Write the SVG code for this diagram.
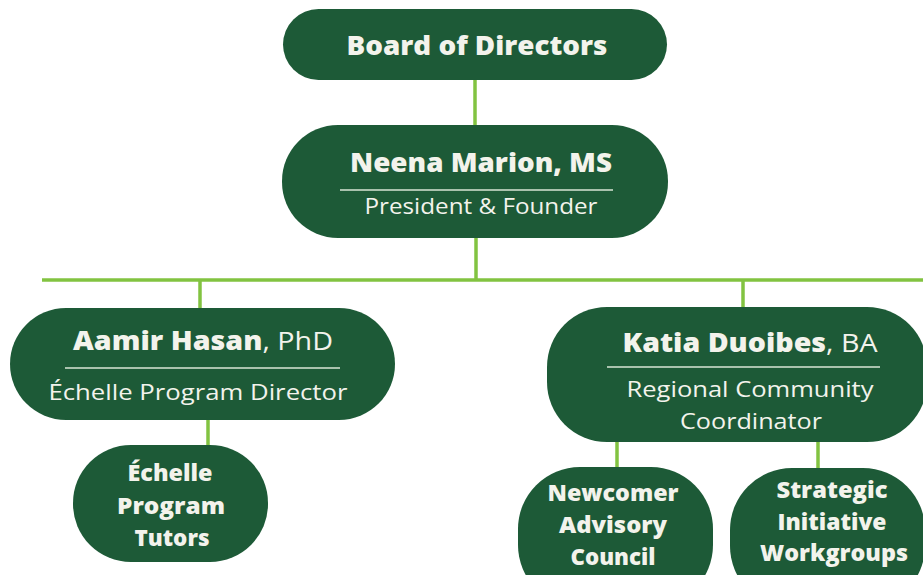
<svg xmlns="http://www.w3.org/2000/svg" width="923" height="575" viewBox="0 0 923 575">
<style>
.box{fill:#1d5a37}
.conn{stroke:#82c341;stroke-width:3.5;fill:none}
.div{stroke:#d9e6d6;stroke-width:1.5}
text{font-family:"Open Sans","Liberation Sans",sans-serif;fill:#f3f3ec;text-anchor:middle}
.b{font-weight:800}
.r{font-weight:400}
</style>
<rect width="923" height="575" fill="#ffffff"/>
<g id="connectors">
<line class="conn" x1="475" y1="80" x2="475" y2="126"/>
<line class="conn" x1="476" y1="237" x2="476" y2="280"/>
<line class="conn" x1="42" y1="280" x2="923" y2="280"/>
<line class="conn" x1="200" y1="280" x2="200" y2="309"/>
<line class="conn" x1="743" y1="280" x2="743" y2="308"/>
<line class="conn" x1="208" y1="419" x2="208" y2="446"/>
<line class="conn" x1="617" y1="441" x2="617" y2="468"/>
<line class="conn" x1="818" y1="441" x2="818" y2="469"/>
</g>
<g id="board">
<rect class="box" x="283" y="9" width="384" height="71" rx="35.5"/>
<text class="b" x="477" y="55" font-size="27" textLength="261" lengthAdjust="spacingAndGlyphs">Board of Directors</text>
</g>
<g id="neena">
<rect class="box" x="282" y="125" width="386" height="113" rx="56"/>
<text class="b" x="481" y="172" font-size="27" textLength="262" lengthAdjust="spacingAndGlyphs">Neena Marion, MS</text>
<line class="div" x1="340" y1="190" x2="613" y2="190"/>
<text class="r" x="481" y="214" font-size="21" textLength="233" lengthAdjust="spacingAndGlyphs">President &amp; Founder</text>
</g>
<g id="aamir">
<rect class="box" x="10" y="308" width="385" height="112" rx="56"/>
<text x="203" y="350" font-size="26" textLength="260" lengthAdjust="spacingAndGlyphs"><tspan class="b">Aamir Hasan</tspan><tspan class="r">, PhD</tspan></text>
<line class="div" x1="65" y1="368" x2="340" y2="368"/>
<text class="r" x="198" y="400" font-size="21" textLength="299" lengthAdjust="spacingAndGlyphs">Échelle Program Director</text>
</g>
<g id="tutors">
<rect class="box" x="73" y="445" width="195" height="117" rx="58"/>
<text class="b" x="170" y="481" font-size="22" textLength="85" lengthAdjust="spacingAndGlyphs">Échelle</text>
<text class="b" x="171" y="514" font-size="22" textLength="108" lengthAdjust="spacingAndGlyphs">Program</text>
<text class="b" x="172" y="546" font-size="22" textLength="75" lengthAdjust="spacingAndGlyphs">Tutors</text>
</g>
<g id="katia">
<rect class="box" x="547" y="307" width="380" height="135" rx="60"/>
<text x="750" y="352" font-size="26" textLength="255" lengthAdjust="spacingAndGlyphs"><tspan class="b">Katia Duoibes</tspan><tspan class="r">, BA</tspan></text>
<line class="div" x1="607" y1="367" x2="880" y2="367"/>
<text class="r" x="750" y="397" font-size="21" textLength="247" lengthAdjust="spacingAndGlyphs">Regional Community</text>
<text class="r" x="751" y="429" font-size="21" textLength="142" lengthAdjust="spacingAndGlyphs">Coordinator</text>
</g>
<g id="newcomer">
<rect class="box" x="518" y="467" width="195" height="140" rx="62"/>
<text class="b" x="613" y="501" font-size="22" textLength="131" lengthAdjust="spacingAndGlyphs">Newcomer</text>
<text class="b" x="613" y="533" font-size="22" textLength="108" lengthAdjust="spacingAndGlyphs">Advisory</text>
<text class="b" x="613" y="565" font-size="22" textLength="85" lengthAdjust="spacingAndGlyphs">Council</text>
</g>
<g id="strategic">
<rect class="box" x="730" y="468" width="195" height="140" rx="62"/>
<text class="b" x="832" y="498" font-size="22" textLength="111" lengthAdjust="spacingAndGlyphs">Strategic</text>
<text class="b" x="832" y="530" font-size="22" textLength="109" lengthAdjust="spacingAndGlyphs">Initiative</text>
<text class="b" x="834" y="561" font-size="22" textLength="148" lengthAdjust="spacingAndGlyphs">Workgroups</text>
</g>
</svg>
